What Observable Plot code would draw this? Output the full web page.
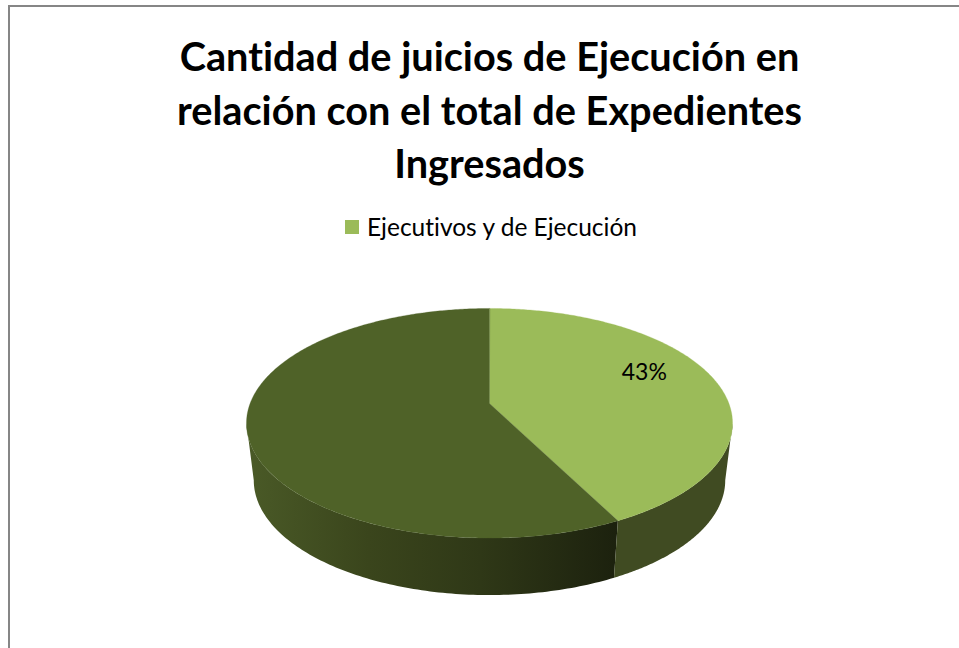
<!DOCTYPE html>
<html lang="es">
<head>
<meta charset="utf-8">
<script src="https://cdn.jsdelivr.net/npm/d3@7"></script>
<script src="https://cdn.jsdelivr.net/npm/@observablehq/plot@0.6"></script>
<style>
html,body{margin:0;padding:0;background:#fff;overflow:hidden;width:959px;height:648px}
#frame{position:absolute;left:8px;top:5px;width:1000px;height:700px;border:2px solid #868686;box-sizing:border-box}
#chart{position:absolute;left:0;top:0}
#title{position:absolute;left:0;top:29px;width:979px;text-align:center;font:700 39.7px/53.5px Lato,Carlito,sans-serif;font-variant-ligatures:none;color:#000}
#legend{position:absolute;left:345px;top:213px;display:flex;align-items:center;font:400 24.5px/28px Lato,Carlito,sans-serif;font-variant-ligatures:none;color:#000;white-space:nowrap}
#legend i{display:block;width:14px;height:14px;background:#9BBB59;margin-right:8px}
</style>
</head>
<body>
<div id="frame"></div>
<div id="chart"></div>
<div id="title">Cantidad de juicios de Ejecución en<br>relación con el total de Expedientes<br>Ingresados</div>
<div id="legend"><i></i><span>Ejecutivos y de Ejecución</span></div>
<script>
const categories = ["Ejecutivos y de Ejecución", "Otros expedientes"];
const shares = [0.425, 0.575];
const topColors = ["#9BBB59", "#4F6228"];
const lightWallColor = "#404B22";
const darkWallStops = ["#4A5A27", "#3A451C", "#2F3817", "#1C210E"];
const darkWallStopAt = [0, 0.33, 0.63, 1];

const k = 0.172;               // perspective of the tilted disc
const depth = 0.512;           // height of the wall in y units
const shrink = 0.97;           // lower rim is slightly narrower
const silhouette = Math.asin(k); // angle past 90 deg where the disc is widest

const project = (theta, r = 1) => {
  const X = r * Math.sin(theta), Z = r * Math.cos(theta), w = 1 + k * Z;
  return {x: X / w, y: Z / w};
};
const turn = (f) => f * 2 * Math.PI;
const split = turn(shares[0]);
const rimStart = Math.PI / 2 + silhouette;
const rimEnd = 1.5 * Math.PI - silhouette;

// slices of the top face
const topFace = [];
let start = 0;
categories.forEach((name, i) => {
  const end = start + turn(shares[i]);
  topFace.push({name, ...project(0, 0), color: topColors[i]});
  const n = Math.ceil((end - start) * 90);
  d3.range(n + 1).forEach((j) => topFace.push({name, ...project(start + (end - start) * j / n), color: topColors[i]}));
  start = end;
});

// one wall polygon per slice: upper rim forward, lower rim back
const wall = (id, a, b) => {
  const n = 120;
  const rim = d3.range(n + 1).map((i) => project(a + (b - a) * i / n));
  return [
    ...rim.map((p) => ({id, x: p.x, y: p.y})),
    ...rim.reverse().map((p) => ({id, x: p.x * shrink, y: p.y - depth}))
  ];
};
const lightWall = wall("light", rimStart, split);
const darkWall = wall("dark", split, rimEnd);

const labelAt = project(turn(0.185), 0.74);
const labels = [{...labelAt, text: Math.round(shares[0] * 100) + "%"}];

const defs = () => {
  const ns = "http://www.w3.org/2000/svg";
  const d = document.createElementNS(ns, "defs");
  const g = document.createElementNS(ns, "linearGradient");
  g.setAttribute("id", "darkWall");
  darkWallStops.forEach((c, i) => {
    const s = document.createElementNS(ns, "stop");
    s.setAttribute("offset", darkWallStopAt[i]);
    s.setAttribute("stop-color", c);
    g.append(s);
  });
  d.append(g);
  return d;
};

const plot = Plot.plot({
  width: 959, height: 648,
  margin: 0,
  style: {background: "transparent"},
  x: {axis: null, domain: [-1, 1], range: [249.6, 728.4]},
  y: {axis: null, domain: [-1, 1], range: [514.4, 291.6]},
  marks: [
    defs,
    Plot.line(darkWall, {x: "x", y: "y", fill: "url(#darkWall)", stroke: "none", curve: "linear-closed"}),
    Plot.line(lightWall, {x: "x", y: "y", fill: lightWallColor, stroke: "none", curve: "linear-closed"}),
    Plot.line(topFace, {x: "x", y: "y", z: "name", fill: "color", stroke: "color", strokeWidth: 0.3, curve: "linear-closed"}),
    Plot.text(labels, {x: "x", y: "y", text: "text", fontSize: 23, fontFamily: "Lato, Carlito, sans-serif", fill: "#000"})
  ]
});
document.getElementById("chart").append(plot);
</script>
</body>
</html>
